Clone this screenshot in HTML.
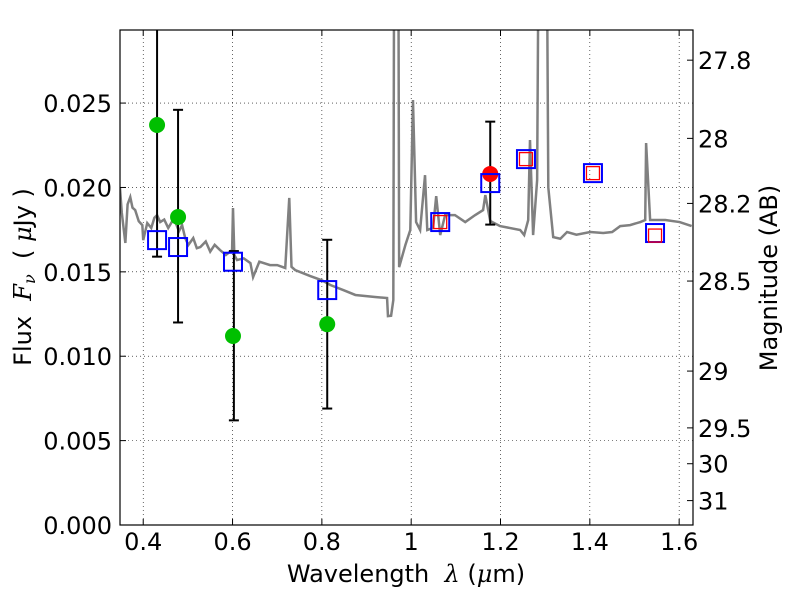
<!DOCTYPE html>
<html><head><meta charset="utf-8"><style>
body{margin:0;background:#fff}
svg text{font-family:"DejaVu Sans","Liberation Sans",sans-serif;fill:#000;white-space:pre}
</style></head><body>
<svg id="c" width="800" height="600" xmlns="http://www.w3.org/2000/svg"></svg>
<script>
const specW=[0.348,0.352,0.360,0.365,0.371,0.376,0.382,0.390,0.398,0.400,0.409,0.418,0.425,0.431,0.438,0.447,0.456,0.465,0.472,0.480,0.487,0.494,0.501,0.512,0.520,0.528,0.540,0.550,0.560,0.572,0.585,0.599,0.601,0.604,0.610,0.625,0.640,0.646,0.660,0.684,0.700,0.718,0.727,0.732,0.740,0.774,0.800,0.819,0.850,0.875,0.919,0.946,0.948,0.955,0.960,0.964,0.969,0.973,0.987,0.998,1.004,1.011,1.020,1.031,1.036,1.049,1.056,1.065,1.076,1.098,1.121,1.143,1.161,1.166,1.177,1.199,1.244,1.253,1.262,1.266,1.273,1.282,1.291,1.298,1.307,1.318,1.334,1.349,1.370,1.401,1.430,1.450,1.468,1.490,1.513,1.524,1.526,1.535,1.569,1.601,1.628];
const specF=[0.01996,0.01850,0.01671,0.01900,0.01943,0.01880,0.01866,0.01800,0.01777,0.01688,0.01789,0.01760,0.01820,0.01836,0.01795,0.01810,0.01760,0.01800,0.01795,0.01740,0.01777,0.01700,0.01659,0.01700,0.01640,0.01647,0.01680,0.01620,0.01660,0.01629,0.01600,0.01629,0.01878,0.01600,0.0157,0.01580,0.01552,0.01469,0.01560,0.0154,0.01540,0.01523,0.01938,0.01530,0.01511,0.01475,0.01450,0.01422,0.01390,0.01363,0.01351,0.01345,0.01238,0.01240,0.01333,0.06,0.06,0.01528,0.01659,0.01748,0.02518,0.01795,0.01748,0.02073,0.01748,0.0176,0.01949,0.01718,0.01836,0.01836,0.01795,0.01836,0.01866,0.01955,0.01801,0.01771,0.01748,0.01718,0.01807,0.02281,0.01718,0.02044,0.06,0.06,0.02,0.01706,0.01696,0.01736,0.01720,0.01736,0.01730,0.01736,0.01771,0.01777,0.01795,0.01807,0.02263,0.01807,0.01807,0.01795,0.01771];
const greenW=[0.431,0.478,0.601,0.812], greenF=[0.0237,0.01825,0.0112,0.0119];
const errW=[0.431,0.478,0.603,0.812,1.177], errLo=[0.0159,0.0120,0.0062,0.0069,0.0178], errHi=[0.035,0.0246,0.01623,0.0169,0.0239];
const blueW=[0.431,0.478,0.601,0.812,1.065,1.177,1.257,1.407,1.546], blueF=[0.01688,0.01647,0.0156,0.01392,0.01795,0.02026,0.02168,0.02085,0.0173];
const redSqW=[1.065,1.257,1.407,1.546], redSqF=[0.01795,0.02168,0.02085,0.01715];
const redW=[1.177], redF=[0.0208];
const xTicks=[0.4,0.6,0.8,1,1.2,1.4,1.6], xLabels=["0.4","0.6","0.8","1","1.2","1.4","1.6"];
const yTicks=[0,0.005,0.01,0.015,0.02,0.025], yLabels=["0.000","0.005","0.010","0.015","0.020","0.025"];
const magTicks=[27.8,28,28.2,28.5,29,29.5,30,31], magLabels=["27.8","28","28.2","28.5","29","29.5","30","31"];

const L=120,R=693,T=30,B=525, X0=0.348,X1=1.631,Y0=0,Y1=0.02933;
const x=w=>L+(w-X0)/(X1-X0)*(R-L);
const y=f=>B-(f-Y0)/(Y1-Y0)*(B-T);
const svg=document.getElementById('c');const NS='http://www.w3.org/2000/svg';
function mk(t,a,p){const e=document.createElementNS(NS,t);for(const k in a)e.setAttribute(k,a[k]);(p||svg).appendChild(e);return e;}
const defs=mk('defs',{});const cp=mk('clipPath',{id:'cl'},defs);mk('rect',{x:L,y:T,width:R-L,height:B-T},cp);
const plot=mk('g',{'clip-path':'url(#cl)'});


xTicks.forEach((v,i)=>{
 const g=mk('line',{x1:x(v),x2:x(v),y1:T,y2:B,stroke:'#000','stroke-width':0.6,'stroke-dasharray':'1,3'},plot);
 
 
 mk('line',{x1:x(v),x2:x(v),y1:B,y2:B-6,stroke:'#000'});mk('line',{x1:x(v),x2:x(v),y1:T,y2:T+6,stroke:'#000'});
 const t=mk('text',{x:x(v),y:B+25,'text-anchor':'middle','font-size':24});t.textContent=xLabels[i];
 
 
});
yTicks.forEach((v,i)=>{
 const g=mk('line',{x1:L,x2:R,y1:y(v),y2:y(v),stroke:'#000','stroke-width':0.6,'stroke-dasharray':'1,3'},plot);
 
 
 mk('line',{x1:L,x2:L+6,y1:y(v),y2:y(v),stroke:'#000'});
 const t=mk('text',{x:L-8,y:y(v)+9,'text-anchor':'end','font-size':24});t.textContent=yLabels[i];
 
 
});
magTicks.forEach((m,i)=>{
 const f=Math.pow(10,(23.9-m)/2.5);
 mk('line',{x1:R,x2:R-6,y1:y(f),y2:y(f),stroke:'#000'});
 const t=mk('text',{x:R+5,y:y(f)+9,'font-size':24});t.textContent=magLabels[i];
 
 
});
const sp=mk('polyline',{points:specW.map((w,i)=>x(w)+','+y(specF[i])).join(' '),fill:'none',stroke:'#808080','stroke-width':2.5},plot);


errW.forEach((w,i)=>{
 const e=mk('g',{stroke:'#000','stroke-width':2},plot);
 
 
 mk('line',{x1:x(w),x2:x(w),y1:y(errLo[i]),y2:y(errHi[i])},e);
 [errLo[i],errHi[i]].forEach(v=>mk('line',{x1:x(w)-5,x2:x(w)+5,y1:y(v),y2:y(v)},e));
});
greenW.forEach((w,i)=>{const c=mk('circle',{cx:x(w),cy:y(greenF[i]),r:8,fill:'#00bf00'},plot);
 
 });
redW.forEach((w,i)=>{const c=mk('circle',{cx:x(w),cy:y(redF[i]),r:8,fill:'#ff0000'},plot);
 
 });
blueW.forEach((w,i)=>{const s=mk('rect',{x:x(w)-9,y:y(blueF[i])-9,width:18,height:18,fill:'none',stroke:'#0000ff','stroke-width':2},plot);
 
 });
redSqW.forEach((w,i)=>{const s=mk('rect',{x:x(w)-6.5,y:y(redSqF[i])-6.5,width:13,height:13,fill:'none',stroke:'#ff0000','stroke-width':1.3},plot);
 
 });
const fr=mk('rect',{x:L,y:T,width:R-L,height:B-T,fill:'none',stroke:'#000','stroke-width':1.2});


const xl=mk('text',{x:406,y:582,'text-anchor':'middle','font-size':24});
xl.innerHTML='Wavelength  <tspan font-style="italic" font-family="DejaVu Serif">λ</tspan> (<tspan font-style="italic" font-family="DejaVu Serif">μ</tspan>m)';


const yl=mk('text',{x:0,y:0,'text-anchor':'middle','font-size':24,transform:'translate(31,277) rotate(-90)'});
yl.innerHTML='Flux  <tspan font-style="italic" font-family="DejaVu Serif">F<tspan font-size="16" dy="4">ν</tspan></tspan><tspan dy="-4">  ( </tspan><tspan font-style="italic" font-family="DejaVu Serif">μ</tspan>Jy )';


const ml=mk('text',{x:0,y:0,'text-anchor':'middle','font-size':24,transform:'translate(777,278) rotate(-90)'});
ml.textContent='Magnitude (AB)';


</script>
</body></html>
